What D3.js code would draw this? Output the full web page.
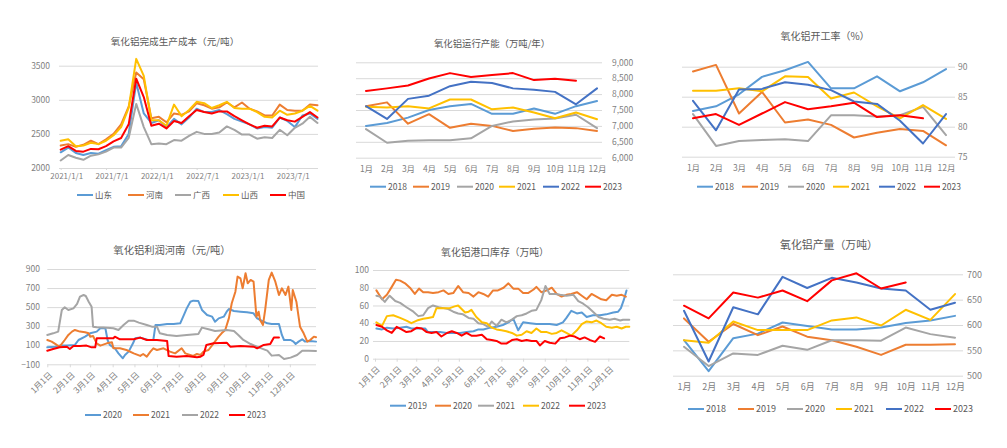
<!DOCTYPE html>
<html><head><meta charset="utf-8">
<script src="https://cdn.jsdelivr.net/npm/d3@7"></script>
<style>body{margin:0;background:#fff;} svg{display:block;}</style>
</head><body><svg id="c" width="1007" height="448"></svg>
<script>
// ---------- Panel 1: 氧化铝完成生产成本 ----------
const costTickIdx = [0, 6, 12, 18, 24, 30];
const costTickLabels = ["2021/1/1", "2021/7/1", "2022/1/1", "2022/7/1", "2023/1/1", "2023/7/1"];
const costNames = ["山东", "河南", "广西", "山西", "中国"];
const costShandong = [2230,2300,2220,2190,2220,2210,2260,2310,2320,2500,3250,2800,2660,2700,2600,2720,2640,2740,2870,2820,2820,2850,2790,2720,2680,2640,2580,2600,2590,2740,2690,2600,2770,2800,2720];
const costHenan = [2330,2350,2310,2340,2400,2350,2420,2500,2640,2900,3400,3300,2730,2750,2670,2800,2780,2830,2950,2920,2870,2890,2960,2890,2960,2870,2830,2770,2770,2930,2850,2840,2840,2930,2920];
const costGuangxi = [2110,2190,2150,2120,2180,2200,2240,2300,2300,2440,2940,2600,2350,2360,2350,2410,2400,2470,2530,2500,2500,2520,2610,2560,2490,2490,2430,2450,2440,2560,2480,2590,2650,2750,2660];
const costShanxi = [2400,2420,2320,2330,2370,2350,2400,2480,2600,2880,3600,3350,2700,2700,2620,2930,2760,2850,2970,2950,2880,2920,2970,2880,2870,2870,2820,2750,2740,2840,2780,2800,2840,2910,2840];
const costChina = [2270,2320,2250,2240,2280,2275,2320,2390,2440,2640,3310,3040,2620,2650,2580,2690,2660,2760,2850,2820,2800,2830,2830,2760,2700,2640,2590,2620,2610,2740,2700,2680,2750,2820,2740];
const costTicks = [2000, 2500, 3000, 3500];

// ---------- shared month categories ----------
const months = ["1月","2月","3月","4月","5月","6月","7月","8月","9月","10月","11月","12月"];
const years6 = ["2018","2019","2020","2021","2022","2023"];

// ---------- Panel 2: 运行产能 ----------
const cap2018 = [7000,7090,7260,7500,7620,7690,7380,7380,7550,7380,7620,7780];
const cap2019 = [7620,7740,7070,7370,6940,7070,7000,6840,6910,6950,6930,6840];
const cap2020 = [6900,6470,6530,6550,6550,6610,7000,7140,7200,7230,7350,6930];
const cap2021 = [7600,7580,7620,7550,7830,7830,7520,7580,7420,7240,7420,7210];
const cap2022 = [7620,7220,7850,7950,8250,8390,8350,8180,8140,8070,7680,8180];
const cap2023 = [8100,8180,8270,8490,8660,8540,8600,8660,8440,8480,8420];
const capTicks = [6000, 6500, 7000, 7500, 8000, 8500, 9000];

// ---------- Panel 3: 开工率 ----------
const rate2018 = [82.6,83.4,85.4,88.3,89.4,90.8,86.4,86.4,88.4,85.9,87.4,89.6];
const rate2019 = [89.2,90.3,82.2,85.8,80.7,81.2,80.3,78.2,79.0,79.6,79.3,76.9];
const rate2020 = [82.1,76.8,77.6,77.8,77.9,77.6,81.9,81.9,81.7,81.9,83.3,78.6];
const rate2021 = [86.0,86.0,86.4,85.9,88.4,88.3,84.7,85.7,83.4,81.4,83.6,81.3];
const rate2022 = [84.3,79.4,86.2,86.3,87.4,87.0,86.1,84.2,83.8,81.0,77.2,82.1];
const rate2023 = [81.4,82.1,80.3,82.2,84.1,82.9,83.4,84.0,81.6,81.9,81.4];
const rateTicks = [75, 80, 85, 90];

// ---------- Panel 4: 利润河南 (day of year, value) ----------
const monthStartDays = [0,31,59,90,120,151,181,212,243,273,304,334];
const dayLabels = ["1月1日","2月1日","3月1日","4月1日","5月1日","6月1日","7月1日","8月1日","9月1日","10月1日","11月1日","12月1日"];
const profitYears = ["2020","2021","2022","2023"];
const profit2020Days = [0,11,17,27,38,43,52,59,68,73,80,83,86,93,98,104,107,112,118,121,128,139,146,149,155,165,174,183,188,192,197,201,208,213,220,227,231,236,243,247,250,257,266,275,284,289,293,298,303,309,319,323,326,335,339,342,346,351,355,362,370];
const profit2020 = [78,85,96,96,103,155,190,225,243,278,278,155,103,68,15,-37,-2,33,120,173,180,155,155,313,313,323,323,330,417,487,557,568,564,470,417,400,347,382,400,452,480,459,452,445,435,382,365,347,330,323,323,208,155,155,138,113,138,162,138,145,138];
const profit2021Days = [0,6,13,17,24,29,34,38,45,52,57,59,63,68,73,82,89,91,100,109,119,128,132,137,142,146,151,160,169,176,185,190,201,206,211,215,222,229,236,240,245,250,254,259,262,266,269,273,276,280,284,288,291,293,297,300,305,309,314,319,323,328,332,336,338,343,348,353,358,362,367,370];
const profit2021 = [155,138,103,85,155,208,243,260,243,236,225,190,197,120,96,120,131,68,68,50,15,-12,8,-20,33,68,50,68,33,15,68,15,-12,8,-2,33,50,120,190,225,260,382,540,662,820,802,697,855,750,785,767,400,452,365,313,470,785,862,767,627,697,627,715,470,680,557,295,225,138,155,190,183];
const profit2022Days = [0,8,15,20,24,29,36,41,45,50,53,57,61,63,68,77,91,98,105,112,119,126,137,144,151,155,165,178,192,208,213,222,231,247,257,263,270,280,291,303,309,319,326,335,344,351,360,370];
const profit2022 = [208,225,243,470,498,470,487,533,610,627,617,557,505,295,288,285,278,260,313,358,358,337,313,295,295,225,208,197,208,218,285,267,250,260,250,208,155,113,78,43,-9,-2,-44,-30,-2,43,43,40];
const profit2023Days = [0,8,17,27,31,36,45,54,61,66,68,77,91,93,100,119,128,137,151,165,167,178,192,206,211,215,219,229,247,252,266,284,289,298,307,312,319];
const profit2023 = [43,61,78,85,61,92,92,96,78,78,173,173,173,190,162,162,180,155,155,145,-12,-20,-12,-27,-20,-2,103,120,127,85,92,85,68,103,113,180,180];
const profitTicks = [-100, 100, 300, 500, 700, 900];

// ---------- Panel 5: 港口库存 (day of year, value) ----------
const stockYears = ["2019","2020","2021","2022","2023"];
const stock2019Days = [2,10,17,26,36,45,52,62,72,76,86,93,103,112,122,131,141,148,155,165,174,183,191,198,205,212,222,231,241,250,260,269,274,281,289,296,303,312,322,331,341,348,352,356,360];
const stock2019 = [34,33,35,34,35,36,34,34,34,30,30,30,29,29,29,30,31,33,33,35,36,38,41,45,32,41,40,39,39,39,38,41,46,54,51,52,47,49,49,50,52,53,57,66,77];
const stock2020Days = [2,10,17,24,30,36,43,50,57,63,69,76,83,91,98,105,112,119,126,134,141,148,155,162,169,176,184,191,198,205,212,219,227,231,238,246,253,260,267,274,281,289,296,303,310,317,324,331,339,346,353,359];
const stock2020 = [77,67,72,81,89,88,85,80,73,79,75,75,74,75,77,73,74,82,75,74,70,75,73,70,77,77,80,85,79,79,74,74,78,81,75,77,80,73,70,72,73,75,71,67,73,70,67,66,72,71,72,70];
const stock2021Days = [2,7,14,21,29,36,45,55,62,69,76,83,91,98,105,112,119,126,134,141,148,155,162,167,174,181,188,196,203,210,217,224,231,238,244,250,258,265,274,284,291,298,305,312,320,327,336,343,351,355,364];
const stock2021 = [71,70,64,71,65,63,58,53,48,49,57,60,58,57,56,53,51,50,46,45,40,39,36,42,37,44,41,44,48,49,51,54,55,66,82,73,73,72,71,72,65,62,58,53,47,45,44,45,43,44,44];
const stock2022Days = [2,10,17,26,36,45,52,60,69,76,83,88,98,107,114,119,124,129,134,138,145,153,160,167,174,181,188,196,203,210,217,224,231,238,246,253,260,267,274,281,289,296,303,310,317,324,331,339,346,353,359,364];
const stock2022 = [41,37,48,49,46,43,40,43,45,46,47,57,57,57,59,60,56,52,53,55,47,41,40,35,33,32,31,29,26,27,31,29,34,30,30,28,29,32,29,26,32,39,42,41,43,40,36,35,36,34,36,36];
const stock2023Days = [2,10,17,24,31,38,45,52,60,67,74,81,88,95,103,110,117,124,131,138,145,153,160,167,174,181,188,196,203,210,217,224,231,236,243,250,258,265,272,279,286,293,300,308,315,322,328];
const stock2023 = [38,36,32,29,36,33,30,31,35,34,30,29,30,25,29,31,29,26,29,26,26,27,22,21,20,17,17,21,22,20,21,20,20,15,20,18,17,23,24,26,25,22,24,21,19,25,23];
const stockTicks = [0, 20, 40, 60, 80, 100];

// ---------- Panel 6: 产量 ----------
const out2018 = [570,509,574,583,605,598,591,591,595,604,609,618];
const out2019 = [613,567,602,580,597,577,570,557,541,561,561,562];
const out2020 = [557,519,544,541,559,551,570,570,569,595,582,575];
const out2021 = [570,565,607,590,590,590,609,615,599,630,610,661];
const out2022 = [628,528,635,621,695,673,693,684,672,668,630,644];
const out2023 = [638,613,664,654,668,647,688,702,672,684];
const outTicks = [500, 550, 600, 650, 700];

// ---------- drawing ----------
const FONT = '"Noto Sans CJK SC","Noto Sans",sans-serif';
const COL = {lb:'#5B9BD5', or:'#ED7D31', gr:'#A5A5A5', ye:'#FFC000', db:'#4472C4', rd:'#FF0000'};
const GRID = '#d9d9d9', TICK = '#7f7f7f', TXT = '#595959';
const svg = d3.select('#c');

function title(t, x, y, size) {
  svg.append('text').attr('x', x).attr('y', y).attr('text-anchor', 'middle')
    .attr('font-family', FONT).attr('font-size', size).attr('fill', TXT).text(t);
}
function gridY(y, ticks, x0, x1) {
  svg.append('g').attr('transform', `translate(${x0},0)`)
    .call(d3.axisLeft(y).tickValues(ticks).tickSize(-(x1 - x0)).tickFormat(''))
    .call(s => { s.select('.domain').remove(); s.selectAll('line').attr('stroke', GRID); });
}
function yLabels(y, ticks, x, side, fmt, size) {
  const ax = (side === 'left' ? d3.axisLeft(y) : d3.axisRight(y)).tickValues(ticks).tickSize(0).tickPadding(0).tickFormat(fmt);
  svg.append('g').attr('transform', `translate(${x},0)`).call(ax)
    .attr('font-family', FONT).attr('font-size', size)
    .call(s => { s.select('.domain').remove(); s.selectAll('text').attr('fill', TICK); });
}
function xCatLabels(x, yPos, pad, size) {
  svg.append('g').attr('transform', `translate(0,${yPos})`)
    .call(d3.axisBottom(x).tickSize(0).tickPadding(pad))
    .attr('font-family', FONT).attr('font-size', size)
    .call(s => { s.select('.domain').remove(); s.selectAll('text').attr('fill', TICK); });
}
function xDayAxis(x, yPos, size) {
  svg.append('g').attr('transform', `translate(0,${yPos})`)
    .call(d3.axisBottom(x).tickValues(monthStartDays).tickSize(3).tickFormat((d, i) => dayLabels[i]))
    .attr('font-family', FONT).attr('font-size', size)
    .call(s => {
      s.select('.domain').remove();
      s.selectAll('line').attr('stroke', GRID);
      s.selectAll('text').attr('fill', TICK).attr('text-anchor', 'end')
        .attr('x', 0).attr('y', 0).attr('dy', '0.35em')
        .attr('transform', 'translate(3,9) rotate(-45)');
    });
}
function drawLine(pts, x, y, color, w) {
  svg.append('path').datum(pts).attr('fill', 'none').attr('stroke', color)
    .attr('stroke-width', w || 2).attr('stroke-linejoin', 'round').attr('stroke-linecap', 'round')
    .attr('d', d3.line().x(d => x(d[0])).y(d => y(d[1])));
}
function legend(names, colors, xs, y, size) {
  names.forEach((n, i) => {
    svg.append('line').attr('x1', xs[i]).attr('x2', xs[i] + 16).attr('y1', y).attr('y2', y)
      .attr('stroke', colors[i]).attr('stroke-width', 2);
    svg.append('text').attr('x', xs[i] + 18).attr('y', y + 3).attr('font-family', FONT)
      .attr('font-size', size).attr('fill', TXT).text(n);
  });
}

// Panel 1
{
  const x = d3.scaleLinear().domain([0, 34]).range([60.7, 317.5]);
  const y = d3.scaleLinear().domain([2000, 3500]).range([168, 65.7]);
  title('氧化铝完成生产成本（元/吨）', 175, 45, 9.6);
  gridY(y, costTicks, 59, 318);
  yLabels(y, costTicks, 50, 'left', d => d, 8.5);
  svg.append('g').attr('transform', 'translate(0,168)')
    .call(d3.axisBottom(x).tickValues(costTickIdx).tickSize(2).tickPadding(3).tickFormat((d, i) => costTickLabels[i]))
    .attr('font-family', FONT).attr('font-size', 8)
    .call(s => { s.select('.domain').remove(); s.selectAll('line').attr('stroke', GRID);
      s.selectAll('text').attr('fill', TICK).attr('dx', 5.5); });
  const ser = [costShandong, costHenan, costGuangxi, costShanxi, costChina];
  const cols = [COL.lb, COL.or, COL.gr, COL.ye, COL.rd];
  ser.forEach((s, i) => drawLine(s.map((v, j) => [j, v]), x, y, cols[i], 2));
  legend(costNames, cols, [77, 128, 175, 223, 270], 195, 8.5);
}

// Panel 2
{
  const x = d3.scalePoint().domain(months).range([366, 597]);
  const y = d3.scaleLinear().domain([6000, 9000]).range([157.7, 62.3]);
  title('氧化铝运行产能（万吨/年）', 492, 47, 9.4);
  gridY(y, capTicks, 356, 602);
  yLabels(y, capTicks, 612, 'right', d3.format(','), 8.5);
  xCatLabels(x, 157.7, 8, 8.5);
  const ser = [cap2018, cap2019, cap2020, cap2021, cap2022, cap2023];
  const cols = [COL.lb, COL.or, COL.gr, COL.ye, COL.db, COL.rd];
  ser.forEach((s, i) => drawLine(s.map((v, j) => [months[j], v]), x, y, cols[i], 2));
  legend(years6, cols, [370, 413, 457, 499, 543, 585], 186.7, 8.5);
}

// Panel 3
{
  const x = d3.scalePoint().domain(months).range([693, 946]);
  const y = d3.scaleLinear().domain([75, 90]).range([156.7, 66.7]);
  title('氧化铝开工率（%）', 825, 40, 10);
  gridY(y, rateTicks, 682, 955);
  yLabels(y, rateTicks, 958, 'right', d => d, 8.5);
  xCatLabels(x, 156.7, 8, 8.5);
  const ser = [rate2018, rate2019, rate2020, rate2021, rate2022, rate2023];
  const cols = [COL.lb, COL.or, COL.gr, COL.ye, COL.db, COL.rd];
  ser.forEach((s, i) => drawLine(s.map((v, j) => [months[j], v]), x, y, cols[i], 2));
  legend(years6, cols, [697, 742, 788, 833, 879, 924], 186.7, 8.5);
}

// Panel 4
{
  const x = d3.scaleLinear().domain([0, 370]).range([47.3, 316]);
  const y = d3.scaleLinear().domain([-100, 900]).range([364.3, 269]);
  title('氧化铝利润河南（元/吨）', 172, 254, 10.3);
  gridY(y, profitTicks, 47.3, 316);
  yLabels(y, profitTicks, 40, 'left', d => d < 0 ? '−' + Math.abs(d) : d, 8.5);
  xDayAxis(x, 364.3, 8.5);
  const days = [profit2020Days, profit2021Days, profit2022Days, profit2023Days];
  const vals = [profit2020, profit2021, profit2022, profit2023];
  const cols = [COL.lb, COL.or, COL.gr, COL.rd];
  vals.forEach((s, i) => drawLine(s.map((v, j) => [days[i][j], v]), x, y, cols[i], 2));
  legend(profitYears, cols, [85, 133, 182, 229], 415, 8.5);
}

// Panel 5
{
  const x = d3.scaleLinear().domain([0, 364]).range([375, 629.3]);
  const y = d3.scaleLinear().domain([0, 100]).range([358.7, 270]);
  title('氧化铝港口库存（万吨）', 495, 256, 9.8);
  gridY(y, stockTicks, 373, 629.3);
  yLabels(y, stockTicks, 369, 'left', d => d, 8.5);
  xDayAxis(x, 358.7, 8.5);
  const days = [stock2019Days, stock2020Days, stock2021Days, stock2022Days, stock2023Days];
  const vals = [stock2019, stock2020, stock2021, stock2022, stock2023];
  const cols = [COL.lb, COL.or, COL.gr, COL.ye, COL.rd];
  vals.forEach((s, i) => drawLine(s.map((v, j) => [days[i][j], v]), x, y, cols[i], 2));
  legend(stockYears, cols, [390, 435, 478, 523, 569], 405.7, 8.5);
}

// Panel 6
{
  const x = d3.scalePoint().domain(months).range([684, 955]);
  const y = d3.scaleLinear().domain([500, 700]).range([375.7, 274.3]);
  title('氧化铝产量（万吨）', 829, 249, 10.9);
  gridY(y, outTicks, 673, 963);
  yLabels(y, outTicks, 967, 'right', d => d, 9);
  xCatLabels(x, 375.7, 8, 9);
  const ser = [out2018, out2019, out2020, out2021, out2022, out2023];
  const cols = [COL.lb, COL.or, COL.gr, COL.ye, COL.db, COL.rd];
  ser.forEach((s, i) => drawLine(s.map((v, j) => [months[j], v]), x, y, cols[i], 2));
  legend(years6, cols, [688, 738, 787, 836, 886, 935], 409, 9);
}
</script>
</body></html>
